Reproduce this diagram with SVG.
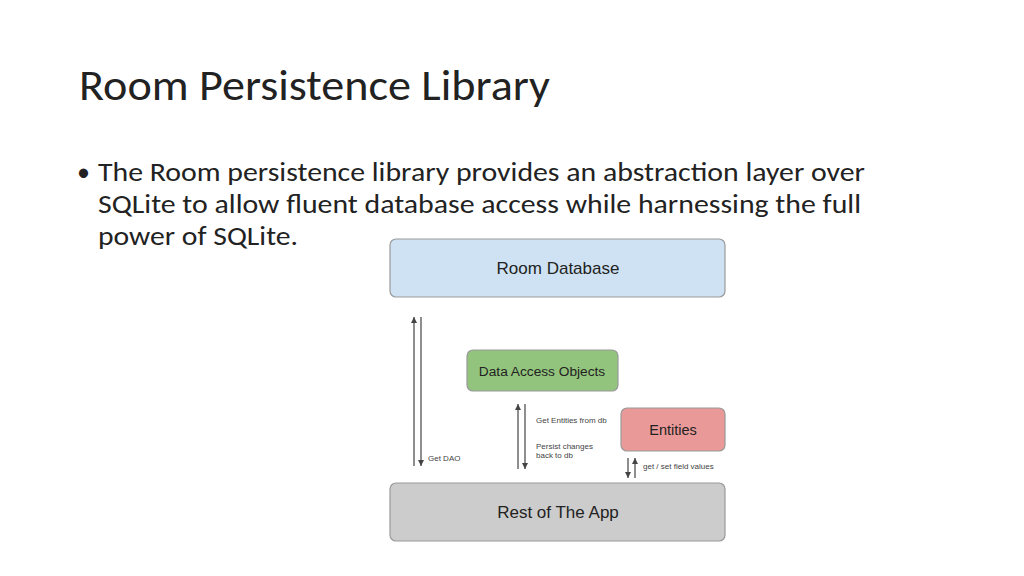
<svg xmlns="http://www.w3.org/2000/svg" width="1024" height="576" viewBox="0 0 1024 576">
<style>
.t{font-family:"Liberation Sans",Arial,sans-serif;fill:#222}
.c{font-family:Calibri,"Liberation Sans",sans-serif;fill:#222}
.box{stroke:#999;stroke-width:1.2}
.ln{stroke:#444;stroke-width:1.2}
.s{font-size:8px;font-family:"Liberation Sans",Arial,sans-serif;fill:#444}
</style>
<defs><marker id="a" markerWidth="6" markerHeight="6" refX="5" refY="3" orient="auto"><path d="M0,0.5L5,3L0,5.5z" fill="#444"/></marker></defs>
<rect width="1024" height="576" fill="#fff"/>
<text class="c" x="79" y="100" font-size="44" fill="#333" textLength="471" lengthAdjust="spacingAndGlyphs">Room Persistence Library</text>
<text class="c" x="77" y="181" font-size="26">•</text>
<text class="c" x="98" y="181" font-size="26" textLength="767" lengthAdjust="spacingAndGlyphs">The Room persistence library provides an abstraction layer over</text>
<text class="c" x="98" y="213" font-size="26" textLength="763" lengthAdjust="spacingAndGlyphs">SQLite to allow fluent database access while harnessing the full</text>
<text class="c" x="98" y="245" font-size="26" textLength="200" lengthAdjust="spacingAndGlyphs">power of SQLite.</text>
<g id="room"><rect class="box" x="390" y="239" width="335" height="58" rx="6" fill="#cfe2f3"/><text class="t" x="558" y="274" font-size="17" text-anchor="middle">Room Database</text></g>
<g id="dao"><rect class="box" x="467" y="350" width="151" height="41" rx="6" fill="#93c47d"/><text class="t" x="542" y="376" font-size="13.7" text-anchor="middle">Data Access Objects</text></g>
<g id="entities"><rect class="box" x="621" y="408" width="104" height="43" rx="6" fill="#ea9999"/><text class="t" x="673" y="435" font-size="14.5" text-anchor="middle">Entities</text></g>
<g id="rest"><rect class="box" x="390" y="483" width="335" height="58" rx="6" fill="#cccccc"/><text class="t" x="558" y="518" font-size="17" text-anchor="middle">Rest of The App</text></g>
<g id="connectors">
<line class="ln" x1="414" y1="466" x2="414" y2="317" marker-end="url(#a)"/>
<line class="ln" x1="421" y1="317" x2="421" y2="466" marker-end="url(#a)"/>
<line class="ln" x1="518" y1="469" x2="518" y2="404" marker-end="url(#a)"/>
<line class="ln" x1="525" y1="404" x2="525" y2="469" marker-end="url(#a)"/>
<line class="ln" x1="628" y1="458" x2="628" y2="478" marker-end="url(#a)"/>
<line class="ln" x1="635" y1="478" x2="635" y2="458" marker-end="url(#a)"/>
<text class="s" x="428" y="461">Get DAO</text>
<text class="s" x="536" y="423">Get Entities from db</text>
<text class="s" x="536" y="449">Persist changes</text>
<text class="s" x="536" y="458">back to db</text>
<text class="s" x="643" y="469">get / set field values</text>
</g>
</svg>
